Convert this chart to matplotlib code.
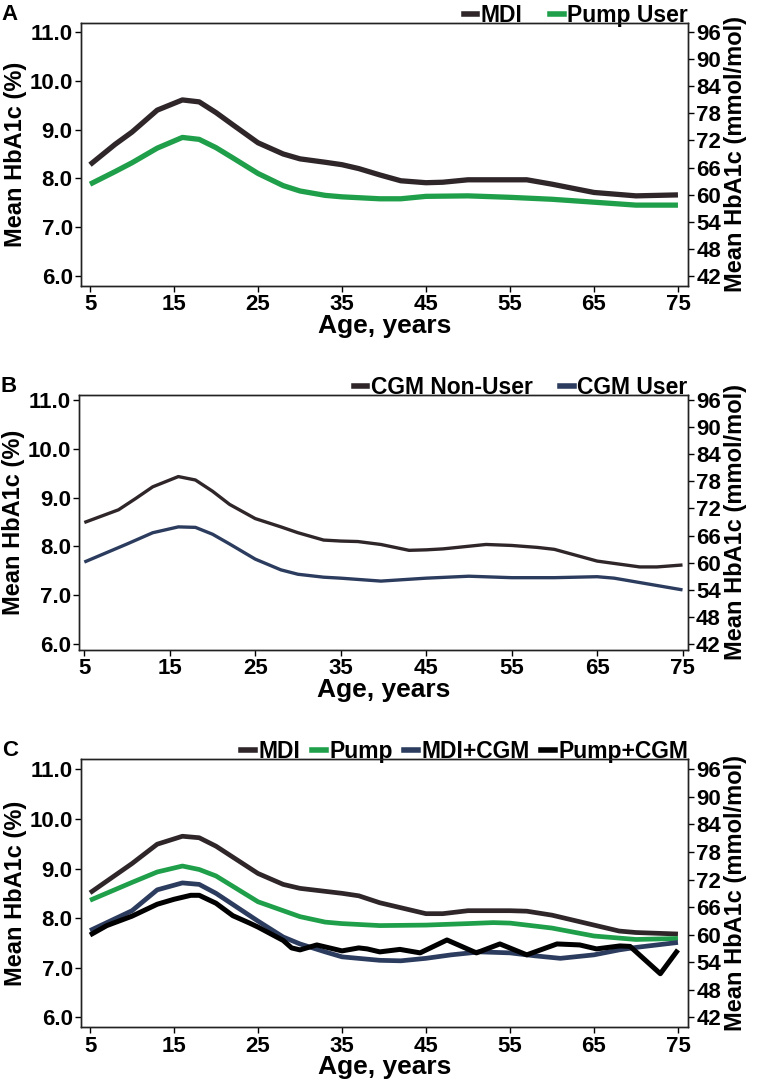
import matplotlib
matplotlib.use("Agg")
import matplotlib.pyplot as plt
from matplotlib.lines import Line2D

plt.rcParams['font.family'] = ['Liberation Sans', 'DejaVu Sans']
plt.rcParams['font.weight'] = 'bold'

# panel A: MDI vs pump
a_mdi_age = [5, 8, 10, 13, 16, 18, 20, 22, 25, 28, 30, 33, 35, 37, 39.5, 42, 45, 47, 50, 55, 57, 60, 65, 70, 75]
a_mdi = [8.28, 8.70, 8.95, 9.40, 9.61, 9.57, 9.35, 9.10, 8.73, 8.50, 8.40, 8.33, 8.28, 8.20, 8.07,
         7.95, 7.91, 7.92, 7.97, 7.97, 7.97, 7.88, 7.71, 7.64, 7.66]
a_pump_age = [5, 8, 10, 13, 16, 18, 20, 22, 25, 28, 30, 33, 35, 39.5, 42, 45, 50, 55, 60, 65, 70, 75]
a_pump = [7.88, 8.14, 8.32, 8.62, 8.84, 8.80, 8.63, 8.42, 8.10, 7.85, 7.74, 7.65, 7.62, 7.58,
          7.58, 7.63, 7.64, 7.61, 7.57, 7.51, 7.45, 7.45]

# panel B: CGM non-user vs user
b_non_age = [5, 9, 11, 13, 16, 18, 20, 22, 25, 28, 30, 33, 35, 37, 39.7, 43, 45, 47, 52, 55, 58, 60, 65, 70, 72, 75]
b_non = [8.49, 8.75, 8.98, 9.22, 9.43, 9.36, 9.13, 8.86, 8.57, 8.40, 8.28, 8.13, 8.11, 8.10, 8.04,
         7.92, 7.93, 7.95, 8.04, 8.02, 7.98, 7.94, 7.70, 7.58, 7.58, 7.62]
b_user_age = [5, 10, 13, 16, 18, 20, 22, 25, 28, 30, 33, 35, 39.7, 45, 50, 55, 60, 65, 67, 70, 75]
b_user = [7.68, 8.05, 8.28, 8.40, 8.39, 8.25, 8.05, 7.74, 7.52, 7.43, 7.37, 7.35, 7.29, 7.35,
          7.39, 7.36, 7.36, 7.38, 7.35, 7.26, 7.11]

# panel C: four groups
c_mdi_age = [5, 10, 13, 16, 18, 20, 25, 28, 30, 35, 37, 39.5, 45, 47, 50, 55, 57, 60, 65, 68, 70, 75]
c_mdi = [8.51, 9.10, 9.49, 9.65, 9.62, 9.45, 8.90, 8.68, 8.60, 8.50, 8.45, 8.31, 8.09, 8.09,
         8.15, 8.15, 8.14, 8.06, 7.86, 7.74, 7.71, 7.68]
c_pump_age = [5, 10, 13, 16, 18, 20, 25, 30, 33, 35, 39.5, 45, 50, 53, 55, 58, 60, 65, 70, 75]
c_pump = [8.36, 8.72, 8.93, 9.05, 8.98, 8.85, 8.33, 8.03, 7.92, 7.89, 7.85, 7.86, 7.89, 7.91,
          7.90, 7.84, 7.80, 7.64, 7.57, 7.59]
c_mdicgm_age = [5, 10, 13, 16, 18, 20, 25, 28, 30, 33, 35, 39.5, 42, 45, 48, 51.4, 55, 58, 61, 65, 68, 70, 75]
c_mdicgm = [7.75, 8.15, 8.57, 8.71, 8.68, 8.50, 7.94, 7.62, 7.48, 7.32, 7.22, 7.15, 7.14, 7.19,
            7.26, 7.32, 7.30, 7.24, 7.19, 7.26, 7.36, 7.41, 7.51]
c_pumpcgm_age = [5, 7, 10, 13, 15, 17, 18, 20, 22, 24, 25, 28, 29, 30, 32, 34, 35, 37, 38, 39.5,
                 41.9, 44.3, 47.5, 51, 53.8, 57, 60.6, 63.3, 65.3, 68.1, 69.3, 72.9, 75]
c_pumpcgm = [7.66, 7.85, 8.04, 8.28, 8.38, 8.46, 8.46, 8.30, 8.05, 7.90, 7.82, 7.55, 7.40, 7.36,
             7.46, 7.38, 7.34, 7.40, 7.38, 7.32, 7.37, 7.30, 7.56, 7.30, 7.48, 7.26, 7.48, 7.46,
             7.38, 7.44, 7.43, 6.88, 7.36]

age_ticks = [5, 15, 25, 35, 45, 55, 65, 75]
pct_ticks = [6.0, 7.0, 8.0, 9.0, 10.0, 11.0]
mmol_ticks = [42, 48, 54, 60, 66, 72, 78, 84, 90, 96]

C_MDI = '#2f2629'
C_PUMP = '#1f9f4a'
C_NAVY = '#2c3c5e'
C_BLACK = '#000000'


def to_mmol(p):
    return 42 + (p - 6.0) * 54 / 5.0


def setup(ax, letter, xlim, ylim):
    ax.set_xlim(*xlim)
    ax.set_ylim(*ylim)
    ax.set_xticks(age_ticks)
    ax.set_yticks(pct_ticks)
    ax.set_yticklabels(['%.1f' % v for v in pct_ticks])
    ax.tick_params(labelsize=16, length=4, width=1, direction='out', pad=2)
    ax.set_xlabel('Age, years', fontsize=19, fontweight='bold', labelpad=-1)
    ax.set_ylabel('Mean HbA1c (%)', fontsize=17, fontweight='bold', labelpad=2)
    for s in ax.spines.values():
        s.set_linewidth(1.0)
        s.set_color('#222222')
    ax2 = ax.twinx()
    ax2.set_ylim(to_mmol(ylim[0]), to_mmol(ylim[1]))
    ax2.set_yticks(mmol_ticks)
    ax2.tick_params(labelsize=16, length=4, width=1, pad=2)
    ax2.set_ylabel('Mean HbA1c (mmol/mol)', fontsize=17, fontweight='bold', labelpad=2)
    for s in ax2.spines.values():
        s.set_linewidth(1.0)
        s.set_color('#222222')
    # panel letter sits just above the top-left corner of the axes
    ax.annotate(letter, xy=(0, 1), xycoords='axes fraction', xytext=(-57, 14),
                textcoords='offset points', fontsize=16, fontweight='bold',
                ha='left', va='top')


def legend(ax, labels, colors, lw, spacing):
    handles = [Line2D([], [], color=c, lw=lw) for c in colors]
    ax.legend(handles, labels, loc='lower right', bbox_to_anchor=(1.0, 0.985), ncol=len(labels),
              frameon=False, handlelength=0.6, handletextpad=0.15,
              columnspacing=spacing, borderaxespad=0, borderpad=0,
              prop={'weight': 'bold', 'size': 16.5})


fig = plt.figure(figsize=(7.58, 10.84), dpi=100)

axA = fig.add_axes([0.1069, 0.7362, 0.8008, 0.2426])
axA.plot(a_mdi_age, a_mdi, color=C_MDI, lw=3.8, solid_joinstyle='round', solid_capstyle='butt')
axA.plot(a_pump_age, a_pump, color=C_PUMP, lw=3.8, solid_joinstyle='round', solid_capstyle='butt')
setup(axA, 'A', (3.93, 76.2), (5.79, 11.19))
legend(axA, ['MDI', 'Pump User'], [C_MDI, C_PUMP], 4, 1.2)

axB = fig.add_axes([0.1046, 0.4004, 0.8026, 0.2352])
axB.plot(b_non_age, b_non, color=C_MDI, lw=2.4, solid_joinstyle='round', solid_capstyle='butt')
axB.plot(b_user_age, b_user, color=C_NAVY, lw=2.4, solid_joinstyle='round', solid_capstyle='butt')
setup(axB, 'B', (4.41, 75.6), (5.88, 11.10))
legend(axB, ['CGM Non-User', 'CGM User'], [C_MDI, C_NAVY], 4, 1.2)

axC = fig.add_axes([0.1069, 0.0523, 0.8008, 0.2472])
axC.plot(c_mdi_age, c_mdi, color=C_MDI, lw=3.4, solid_joinstyle='round', solid_capstyle='butt')
axC.plot(c_pump_age, c_pump, color=C_PUMP, lw=3.4, solid_joinstyle='round', solid_capstyle='butt')
axC.plot(c_mdicgm_age, c_mdicgm, color=C_NAVY, lw=3.4, solid_joinstyle='round', solid_capstyle='butt')
axC.plot(c_pumpcgm_age, c_pumpcgm, color=C_BLACK, lw=3.6, solid_joinstyle='round', solid_capstyle='butt')
setup(axC, 'C', (3.93, 76.2), (5.80, 11.20))
legend(axC, ['MDI', 'Pump', 'MDI+CGM', 'Pump+CGM'], [C_MDI, C_PUMP, C_NAVY, C_BLACK], 4, 0.5)

fig.savefig('out.png', dpi=100)
